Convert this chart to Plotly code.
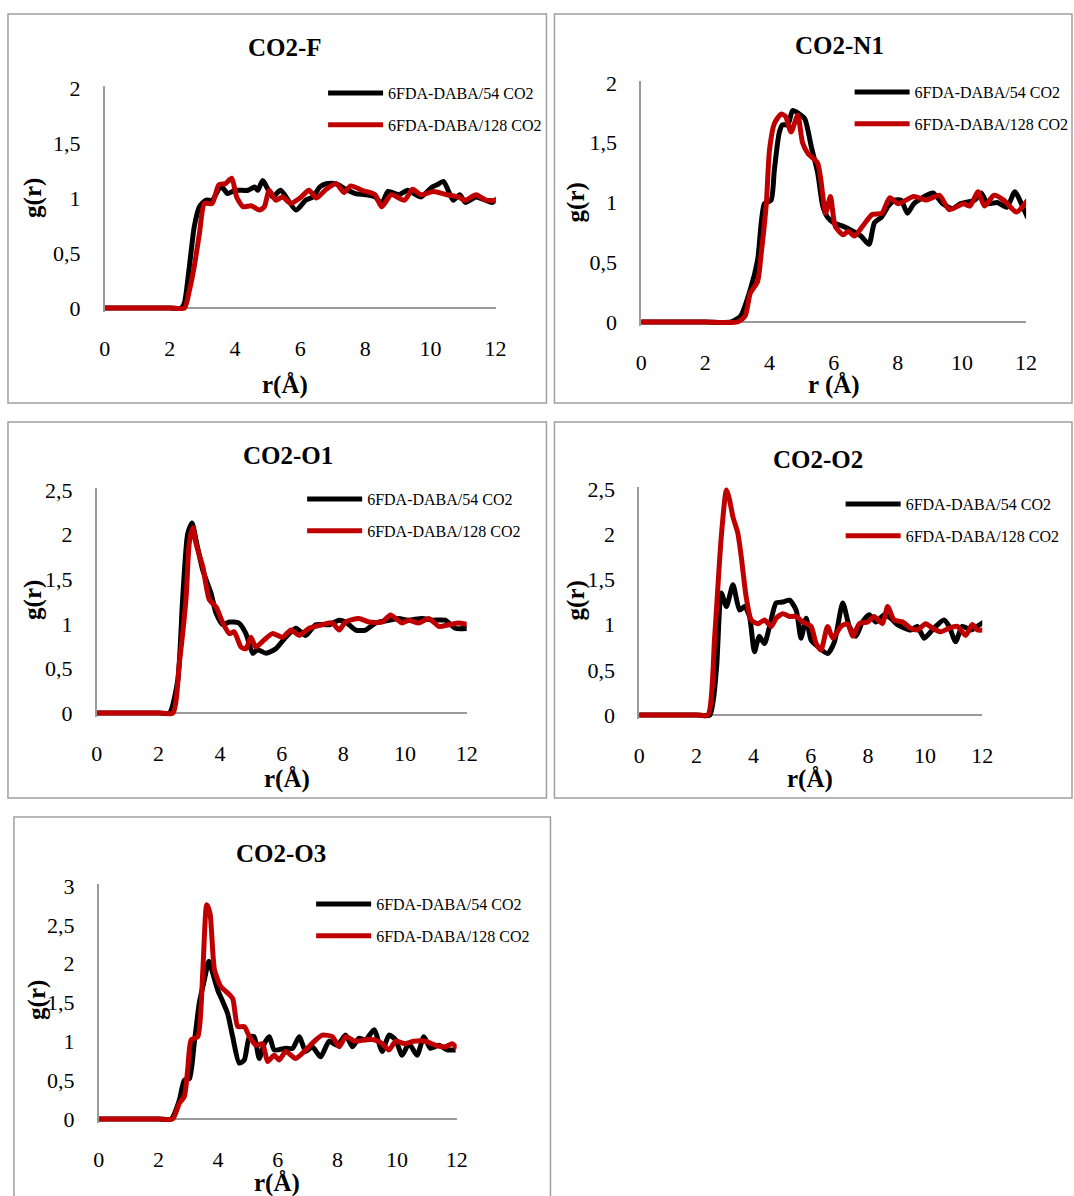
import plotly.graph_objects as go

# ---------------- data ----------------
panel_titles = ["CO2-F", "CO2-N1", "CO2-O1", "CO2-O2", "CO2-O3"]
series_names = ["6FDA-DABA/54 CO2", "6FDA-DABA/128 CO2"]
x_titles = ["r(Å)", "r (Å)", "r(Å)", "r(Å)", "r(Å)"]
y_title = "g(r)"
x_ticks = [0, 2, 4, 6, 8, 10, 12]
y_max = [2, 2, 2.5, 2.5, 3]

r_F_54 = [0, 1, 2, 2.35, 2.45, 2.6, 2.75, 2.91, 3.1, 3.3, 3.5, 3.6, 3.77, 4.0, 4.4, 4.6, 4.7, 4.85, 5.15, 5.4, 5.87, 6.17, 6.4, 6.6, 6.8, 7.1, 7.4, 7.7, 8.0, 8.3, 8.5, 8.7, 9.03, 9.3, 9.7, 10.05, 10.2, 10.4, 10.7, 10.9, 11.07, 11.4, 11.9, 12.1]
g_F_54 = [0, 0, 0, 0, 0.05, 0.38, 0.74, 0.92, 0.98, 0.98, 1.08, 1.10, 1.04, 1.07, 1.07, 1.10, 1.07, 1.16, 1.01, 1.07, 0.89, 0.98, 1.01, 1.10, 1.13, 1.13, 1.08, 1.04, 1.03, 1.01, 0.95, 1.06, 1.03, 1.07, 1.01, 1.10, 1.12, 1.15, 0.98, 1.03, 0.96, 1.01, 0.96, 1.01]
r_F_128 = [0, 1, 2, 2.45, 2.6, 2.75, 2.91, 3.06, 3.3, 3.5, 3.7, 3.9, 4.05, 4.25, 4.5, 4.75, 4.9, 5.05, 5.25, 5.46, 5.7, 6.0, 6.27, 6.5, 6.8, 7.1, 7.35, 7.55, 7.9, 8.3, 8.5, 8.8, 9.2, 9.45, 9.7, 10.1, 10.5, 10.85, 11.07, 11.4, 11.7, 12.1]
g_F_128 = [0, 0, 0, 0, 0.16, 0.38, 0.68, 0.95, 0.95, 1.12, 1.13, 1.18, 1.01, 0.92, 0.93, 0.89, 0.92, 1.07, 0.98, 1.01, 0.95, 1.00, 1.07, 1.00, 1.08, 1.13, 1.05, 1.11, 1.07, 1.03, 0.92, 1.03, 0.98, 1.08, 1.03, 1.06, 1.03, 1.01, 0.98, 1.03, 0.98, 0.98]

r_N1_54 = [0, 1, 2, 2.8, 3.1, 3.4, 3.63, 3.84, 4.05, 4.15, 4.3, 4.4, 4.57, 4.72, 4.88, 5.1, 5.3, 5.5, 5.66, 5.8, 6.0, 6.3, 6.6, 6.85, 7.1, 7.27, 7.5, 7.7, 7.9, 8.1, 8.3, 8.5, 8.9, 9.1, 9.4, 9.7, 9.96, 10.4, 10.6, 10.8, 11.1, 11.4, 11.65, 11.9, 12.05]
g_N1_54 = [0, 0, 0, 0, 0.05, 0.27, 0.52, 0.99, 1.02, 1.27, 1.58, 1.65, 1.65, 1.77, 1.75, 1.70, 1.47, 1.25, 0.97, 0.88, 0.83, 0.80, 0.76, 0.72, 0.65, 0.83, 0.88, 0.97, 1.02, 1.02, 0.91, 0.99, 1.06, 1.08, 0.99, 0.95, 0.99, 1.02, 1.08, 0.99, 1.00, 0.96, 1.09, 0.96, 0.87]
r_N1_128 = [0, 1, 2, 3.0, 3.24, 3.4, 3.63, 3.74, 3.9, 4.0, 4.15, 4.36, 4.5, 4.67, 4.88, 5.03, 5.2, 5.5, 5.6, 5.75, 5.9, 6.05, 6.3, 6.45, 6.65, 6.9, 7.2, 7.5, 7.75, 8.0, 8.5, 8.9, 9.3, 9.6, 10.05, 10.25, 10.5, 10.7, 11.0, 11.3, 11.7, 12.05]
g_N1_128 = [0, 0, 0, 0, 0.05, 0.24, 0.34, 0.57, 0.99, 1.44, 1.66, 1.74, 1.72, 1.59, 1.73, 1.50, 1.41, 1.33, 1.19, 0.91, 1.05, 0.80, 0.73, 0.76, 0.72, 0.80, 0.90, 0.91, 1.04, 0.99, 1.05, 1.02, 1.06, 0.94, 0.99, 0.97, 1.09, 0.97, 1.06, 1.02, 0.92, 1.02]

r_O1_54 = [0, 1, 2, 2.36, 2.63, 2.79, 2.95, 3.09, 3.22, 3.44, 3.71, 3.87, 4.09, 4.3, 4.6, 4.84, 5.06, 5.22, 5.49, 5.81, 6.13, 6.46, 6.78, 7.1, 7.54, 7.86, 8.07, 8.4, 8.72, 9.05, 9.48, 9.8, 10.1, 10.55, 10.88, 11.3, 11.63, 12.06]
g_O1_54 = [0, 0, 0, 0, 0.37, 1.30, 2.01, 2.13, 1.94, 1.60, 1.34, 1.12, 0.99, 1.02, 1.01, 0.89, 0.67, 0.71, 0.67, 0.72, 0.85, 0.95, 0.87, 0.99, 0.99, 1.04, 1.02, 0.93, 0.93, 1.01, 1.04, 1.06, 1.04, 1.06, 1.04, 1.04, 0.95, 0.95]
r_O1_128 = [0, 1, 2, 2.47, 2.68, 2.9, 3.0, 3.12, 3.22, 3.44, 3.65, 3.87, 4.09, 4.3, 4.46, 4.68, 4.84, 5.0, 5.16, 5.43, 5.7, 6.03, 6.3, 6.57, 6.89, 7.32, 7.64, 7.86, 8.07, 8.5, 8.83, 9.26, 9.53, 9.9, 10.12, 10.45, 10.77, 11.1, 11.42, 11.74, 12.06]
g_O1_128 = [0, 0, 0, 0, 0.56, 1.30, 1.90, 2.08, 1.90, 1.64, 1.27, 1.19, 1.01, 0.89, 0.91, 0.74, 0.72, 0.85, 0.74, 0.82, 0.89, 0.85, 0.93, 0.87, 0.95, 0.99, 1.01, 0.93, 1.02, 1.06, 1.02, 1.02, 1.10, 1.01, 1.04, 1.01, 1.06, 0.97, 0.99, 1.01, 0.99]

r_O2_54 = [0, 1, 2, 2.47, 2.7, 2.87, 3.05, 3.28, 3.51, 3.69, 3.86, 4.03, 4.2, 4.38, 4.56, 4.79, 5.02, 5.26, 5.49, 5.66, 5.84, 6.01, 6.24, 6.59, 6.83, 7.12, 7.35, 7.58, 7.81, 8.05, 8.28, 8.57, 8.8, 9.03, 9.5, 9.73, 9.97, 10.31, 10.66, 10.84, 11.07, 11.3, 11.6, 11.83, 12.06]
g_O2_54 = [0, 0, 0, 0, 0.50, 1.35, 1.20, 1.44, 1.16, 1.20, 1.09, 0.70, 0.87, 0.79, 0.98, 1.24, 1.25, 1.27, 1.16, 0.85, 1.07, 0.83, 0.76, 0.68, 0.81, 1.24, 0.98, 0.87, 1.03, 1.11, 1.03, 1.11, 1.07, 1.00, 0.94, 0.98, 0.85, 0.96, 1.05, 0.98, 0.81, 0.98, 0.94, 0.98, 1.03]
r_O2_128 = [0, 1, 2, 2.4, 2.64, 2.87, 3.05, 3.16, 3.28, 3.45, 3.57, 3.74, 3.92, 4.15, 4.38, 4.62, 4.79, 5.02, 5.26, 5.49, 5.72, 6.01, 6.19, 6.36, 6.59, 6.77, 7.06, 7.29, 7.47, 7.7, 7.99, 8.22, 8.51, 8.69, 8.92, 9.21, 9.5, 9.73, 10.02, 10.26, 10.55, 10.84, 11.13, 11.42, 11.65, 11.83, 12.06]
g_O2_128 = [0, 0, 0, 0, 0.87, 1.97, 2.49, 2.38, 2.19, 2.01, 1.75, 1.31, 1.05, 1.01, 1.05, 0.98, 1.07, 1.12, 1.09, 1.09, 1.03, 0.98, 0.79, 0.72, 0.98, 0.85, 0.98, 1.01, 0.87, 1.01, 1.03, 1.09, 1.01, 1.20, 1.05, 1.03, 0.96, 0.94, 1.01, 0.96, 0.92, 0.96, 0.98, 0.88, 1.00, 0.94, 0.94]

r_O3_54 = [0, 1, 2, 2.43, 2.7, 2.87, 3.04, 3.2, 3.37, 3.54, 3.69, 3.82, 3.99, 4.16, 4.32, 4.49, 4.71, 4.88, 5.05, 5.21, 5.38, 5.55, 5.72, 5.88, 6.27, 6.5, 6.72, 6.94, 7.16, 7.44, 7.72, 8.0, 8.28, 8.5, 8.72, 8.95, 9.23, 9.5, 9.73, 9.95, 10.17, 10.4, 10.67, 10.9, 11.12, 11.4, 11.68, 11.96]
g_O3_54 = [0, 0, 0, 0, 0.24, 0.50, 0.52, 0.97, 1.49, 1.79, 2.03, 1.88, 1.66, 1.51, 1.36, 1.06, 0.72, 0.76, 1.06, 1.06, 0.78, 0.97, 1.06, 0.89, 0.91, 0.91, 1.06, 0.87, 0.93, 0.80, 1.00, 0.95, 1.08, 0.93, 1.04, 1.02, 1.15, 0.87, 1.08, 1.02, 0.82, 0.97, 0.82, 1.06, 0.91, 0.95, 0.89, 0.89]
r_O3_128 = [0, 1, 2, 2.48, 2.7, 2.87, 2.98, 3.1, 3.32, 3.49, 3.62, 3.73, 3.88, 4.1, 4.27, 4.49, 4.66, 4.88, 5.05, 5.27, 5.49, 5.66, 5.88, 6.05, 6.27, 6.6, 6.94, 7.28, 7.5, 7.83, 8.06, 8.28, 8.6, 8.95, 9.23, 9.5, 9.73, 9.95, 10.28, 10.56, 10.95, 11.29, 11.62, 11.85, 12.01]
g_O3_128 = [0, 0, 0, 0, 0.20, 0.29, 0.63, 1.02, 1.06, 1.92, 2.76, 2.65, 1.92, 1.70, 1.64, 1.55, 1.19, 1.19, 1.06, 0.95, 0.97, 0.74, 0.82, 0.76, 0.87, 0.78, 0.89, 1.02, 1.08, 1.06, 0.93, 1.06, 1.00, 1.02, 1.02, 0.97, 0.89, 1.00, 0.97, 1.00, 1.00, 0.95, 0.93, 0.97, 0.91]

data54 = [(r_F_54, g_F_54), (r_N1_54, g_N1_54), (r_O1_54, g_O1_54), (r_O2_54, g_O2_54), (r_O3_54, g_O3_54)]
data128 = [(r_F_128, g_F_128), (r_N1_128, g_N1_128), (r_O1_128, g_O1_128), (r_O2_128, g_O2_128), (r_O3_128, g_O3_128)]

# ---------------- layout geometry (pixels) ----------------
W, H = 1074, 1196
# (x of r=0, x of r=12, y of g=0, y of g=ymax)
axes_px = [(105, 497, 308, 88), (643, 1029, 322, 83), (97, 468, 713, 490),
           (641, 985, 715, 489), (99, 458, 1119, 886)]
boxes_px = [(8, 14, 548, 403), (556, 14, 1075, 403), (8, 422, 548, 798),
            (556, 422, 1075, 798), (14, 817, 552, 1198)]
title_px = [(286, 48), (842, 45), (289, 456), (820, 459), (282, 853)]
xtitle_px = [(286, 385), (836, 385), (288, 779), (812, 779), (278, 1183)]
ytitle_px = [(33, 198), (578, 202), (33, 600), (578, 600), (37, 1000)]
legend_px = [(324, 76), (852, 75), (303, 482), (843, 487), (312, 887)]

px = lambda v: v / W
py = lambda v: 1 - v / H

SERIF = "Liberation Serif, Times New Roman, serif"
BLACK = "#000000"
RED = "#C00000"
AXIS = "#9a9a9a"

fig = go.Figure()
layout = dict(width=W, height=H, autosize=False, margin=dict(l=0, r=0, t=0, b=0, pad=0),
              paper_bgcolor="white", plot_bgcolor="rgba(0,0,0,0)",
              separators=", ", showlegend=True, shapes=[], annotations=[])

for i in range(5):
    n = i + 1
    xa = "xaxis" if n == 1 else f"xaxis{n}"
    ya = "yaxis" if n == 1 else f"yaxis{n}"
    xr = "x" if n == 1 else f"x{n}"
    yr = "y" if n == 1 else f"y{n}"
    lg = "legend" if n == 1 else f"legend{n}"
    x0, x12, y0, yt = axes_px[i]
    ppu = (y0 - yt) / y_max[i]
    pad_b, pad_t = 4, 2
    layout[xa] = dict(domain=[px(x0), px(x12)], range=[0, 12], anchor=yr,
                      tickvals=x_ticks, showgrid=False, zeroline=False, showline=False,
                      ticks="", ticklabelstandoff=21, automargin=False,
                      tickfont=dict(family=SERIF, size=22, color="black"))
    layout[ya] = dict(domain=[py(y0 + pad_b), py(yt - pad_t)],
                      range=[-pad_b / ppu, y_max[i] + pad_t / ppu], anchor=xr,
                      tick0=0, dtick=0.5, showgrid=False, automargin=False,
                      zeroline=True, zerolinecolor=AXIS, zerolinewidth=1.5,
                      showline=True, linecolor=AXIS, linewidth=1.5,
                      ticks="", ticklabelstandoff=18,
                      tickfont=dict(family=SERIF, size=22, color="black"))
    lx, ly = legend_px[i]
    layout[lg] = dict(x=px(lx), y=py(ly), xanchor="left", yanchor="top",
                      bgcolor="rgba(0,0,0,0)", borderwidth=0,
                      font=dict(family=SERIF, size=16, color="black"),
                      itemwidth=55, tracegroupgap=8, traceorder="grouped")

    for (rr, gg), name, col, grp in [(data54[i], series_names[0], BLACK, "a"),
                                     (data128[i], series_names[1], RED, "b")]:
        fig.add_trace(go.Scatter(x=rr, y=gg, mode="lines", name=name,
                                 line=dict(color=col, width=5, shape="spline", smoothing=0.6),
                                 xaxis=xr, yaxis=yr, legend=lg,
                                 legendgroup=f"{grp}{n}", hoverinfo="skip"))

    bx0, by0, bx1, by1 = boxes_px[i]
    layout["shapes"].append(dict(type="rect", xref="paper", yref="paper",
                                 x0=px(bx0), x1=px(bx1), y0=py(by1), y1=py(by0),
                                 line=dict(color="#a0a0a0", width=1.5), fillcolor="rgba(0,0,0,0)"))
    tx, ty = title_px[i]
    layout["annotations"].append(dict(text=f"<b>{panel_titles[i]}</b>", xref="paper", yref="paper",
                                      x=px(tx), y=py(ty), xanchor="center", yanchor="middle",
                                      showarrow=False, font=dict(family=SERIF, size=25, color="black")))
    tx, ty = xtitle_px[i]
    layout["annotations"].append(dict(text=f"<b>{x_titles[i]}</b>", xref="paper", yref="paper",
                                      x=px(tx), y=py(ty), xanchor="center", yanchor="middle",
                                      showarrow=False, font=dict(family=SERIF, size=25, color="black")))
    tx, ty = ytitle_px[i]
    layout["annotations"].append(dict(text=f"<b>{y_title}</b>", xref="paper", yref="paper",
                                      x=px(tx), y=py(ty), xanchor="center", yanchor="middle",
                                      textangle=-90, showarrow=False,
                                      font=dict(family=SERIF, size=25, color="black")))

fig.update_layout(**layout)
fig.write_html("out.html", config={"displayModeBar": False, "responsive": False},
               post_script="document.body.style.margin='0px';document.body.style.overflow='hidden';")
